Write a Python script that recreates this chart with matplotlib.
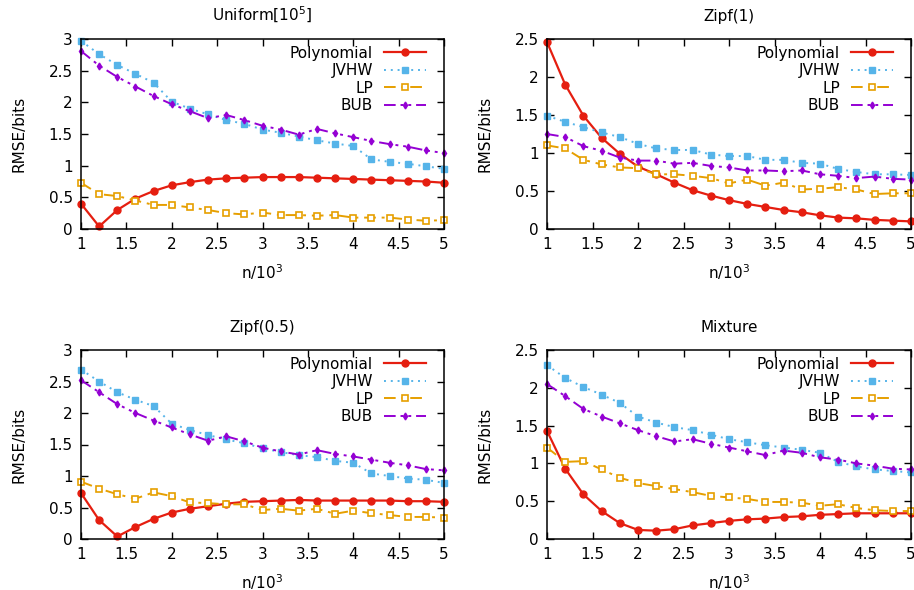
import matplotlib
matplotlib.use("Agg")
import matplotlib.pyplot as plt
import numpy as np

n_thousands = [1.0, 1.2, 1.4, 1.6, 1.8, 2.0, 2.2, 2.4, 2.6, 2.8, 3.0,
               3.2, 3.4, 3.6, 3.8, 4.0, 4.2, 4.4, 4.6, 4.8, 5.0]

estimators = ["Polynomial", "JVHW", "LP", "BUB"]

# Uniform[10^5]
uniform_poly = [0.40, 0.04, 0.30, 0.48, 0.60, 0.69, 0.74, 0.78, 0.80, 0.81, 0.82,
                0.82, 0.82, 0.81, 0.80, 0.79, 0.78, 0.77, 0.76, 0.75, 0.73]
uniform_jvhw = [2.97, 2.76, 2.59, 2.45, 2.31, 2.01, 1.90, 1.81, 1.72, 1.66, 1.57,
                1.52, 1.46, 1.40, 1.35, 1.31, 1.10, 1.06, 1.03, 0.99, 0.95]
uniform_lp = [0.73, 0.55, 0.52, 0.45, 0.38, 0.38, 0.34, 0.30, 0.25, 0.23, 0.26,
              0.22, 0.22, 0.21, 0.22, 0.18, 0.18, 0.18, 0.15, 0.13, 0.14]
uniform_bub = [2.81, 2.58, 2.40, 2.25, 2.10, 1.97, 1.86, 1.75, 1.80, 1.72, 1.63,
               1.57, 1.49, 1.58, 1.51, 1.45, 1.39, 1.34, 1.30, 1.24, 1.20]

# Zipf(1)
zipf1_poly = [2.46, 1.90, 1.49, 1.20, 0.99, 0.82, 0.72, 0.61, 0.51, 0.44, 0.38,
              0.33, 0.29, 0.25, 0.22, 0.18, 0.15, 0.14, 0.12, 0.11, 0.10]
zipf1_jvhw = [1.49, 1.41, 1.34, 1.27, 1.21, 1.12, 1.06, 1.04, 1.04, 0.98, 0.96,
              0.96, 0.91, 0.91, 0.87, 0.86, 0.79, 0.75, 0.72, 0.72, 0.71]
zipf1_lp = [1.10, 1.06, 0.91, 0.85, 0.81, 0.80, 0.72, 0.72, 0.70, 0.67, 0.60,
            0.65, 0.57, 0.61, 0.52, 0.53, 0.55, 0.52, 0.46, 0.47, 0.47]
zipf1_bub = [1.25, 1.21, 1.09, 1.03, 0.94, 0.90, 0.90, 0.86, 0.87, 0.83, 0.81,
             0.77, 0.77, 0.76, 0.77, 0.72, 0.70, 0.67, 0.69, 0.66, 0.65]

# Zipf(0.5)
zipf05_poly = [0.73, 0.30, 0.04, 0.19, 0.32, 0.42, 0.48, 0.52, 0.56, 0.59, 0.60,
               0.61, 0.62, 0.61, 0.61, 0.61, 0.61, 0.61, 0.60, 0.60, 0.59]
zipf05_jvhw = [2.69, 2.50, 2.33, 2.21, 2.11, 1.83, 1.73, 1.65, 1.58, 1.52, 1.44,
               1.38, 1.33, 1.30, 1.24, 1.21, 1.04, 1.00, 0.96, 0.94, 0.89]
zipf05_lp = [0.91, 0.80, 0.71, 0.64, 0.74, 0.68, 0.58, 0.57, 0.55, 0.55, 0.46,
             0.48, 0.45, 0.48, 0.40, 0.45, 0.41, 0.38, 0.35, 0.35, 0.34]
zipf05_bub = [2.52, 2.33, 2.14, 2.00, 1.88, 1.77, 1.66, 1.56, 1.63, 1.55, 1.45,
              1.39, 1.34, 1.41, 1.35, 1.31, 1.26, 1.21, 1.17, 1.11, 1.09]

# Mixture
mix_poly = [1.43, 0.93, 0.59, 0.37, 0.21, 0.12, 0.11, 0.13, 0.18, 0.21, 0.24,
            0.26, 0.27, 0.29, 0.30, 0.32, 0.33, 0.34, 0.34, 0.34, 0.34]
mix_jvhw = [2.30, 2.13, 2.01, 1.91, 1.80, 1.62, 1.54, 1.48, 1.44, 1.38, 1.32,
            1.28, 1.24, 1.21, 1.18, 1.14, 1.02, 0.96, 0.92, 0.90, 0.88]
mix_lp = [1.21, 1.02, 1.03, 0.92, 0.81, 0.74, 0.70, 0.66, 0.62, 0.57, 0.55,
          0.53, 0.49, 0.49, 0.48, 0.44, 0.46, 0.41, 0.38, 0.37, 0.37]
mix_bub = [2.05, 1.89, 1.72, 1.62, 1.53, 1.44, 1.36, 1.29, 1.32, 1.26, 1.21,
           1.16, 1.11, 1.17, 1.14, 1.08, 1.05, 1.00, 0.97, 0.93, 0.92]

panel_titles = ["Uniform[$10^5$]", "Zipf(1)", "Zipf(0.5)", "Mixture"]
panel_data = [
    [uniform_poly, uniform_jvhw, uniform_lp, uniform_bub],
    [zipf1_poly, zipf1_jvhw, zipf1_lp, zipf1_bub],
    [zipf05_poly, zipf05_jvhw, zipf05_lp, zipf05_bub],
    [mix_poly, mix_jvhw, mix_lp, mix_bub],
]
panel_ymax = [3.0, 2.5, 3.0, 2.5]

styles = [
    dict(color="#e51e10", linestyle="-", linewidth=1.6, marker="o",
         markersize=5, markerfacecolor="#e51e10", markeredgecolor="#e51e10"),
    dict(color="#56b4e9", linestyle=(0, (1, 2.5)), linewidth=1.4, marker="s",
         markersize=4.5, markerfacecolor="#56b4e9", markeredgecolor="#56b4e9"),
    dict(color="#e69f00", linestyle=(0, (6, 3, 1.5, 3)), linewidth=1.4, marker="s",
         markersize=4.5, markerfacecolor="white", markeredgecolor="#e69f00",
         markeredgewidth=1.2),
    dict(color="#9400d3", linestyle=(0, (6, 2.5, 1.5, 2.5, 1.5, 2.5)), linewidth=1.4,
         marker="d", markersize=3.5, markerfacecolor="#9400d3",
         markeredgecolor="#9400d3"),
]

fig = plt.figure(figsize=(9.14, 5.90), dpi=100)
W, H = 914.0, 590.0
boxes = [(81, 39, 444, 229), (547, 39, 911, 229),
         (81, 350, 444, 539), (547, 350, 911, 539)]

for (x0, y0, x1, y1), title, data, ymax in zip(boxes, panel_titles, panel_data, panel_ymax):
    ax = fig.add_axes([x0 / W, 1 - y1 / H, (x1 - x0) / W, (y1 - y0) / H])
    for label, vals, st in zip(estimators, data, styles):
        ax.plot(n_thousands, vals, label=label, clip_on=False, **st)
    ax.set_xlim(1, 5)
    ax.set_ylim(0, ymax)
    ax.set_xticks(np.arange(1, 5.01, 0.5))
    ax.set_xticklabels(["1", "1.5", "2", "2.5", "3", "3.5", "4", "4.5", "5"])
    yt = np.arange(0, ymax + 0.01, 0.5)
    ax.set_yticks(yt)
    ax.set_yticklabels([f"{v:g}" for v in yt])
    ax.tick_params(direction="in", top=True, right=True, length=5, width=1,
                   labelsize=11, pad=6)
    for sp in ax.spines.values():
        sp.set_linewidth(1.1)
    ax.set_title(title, fontsize=11, pad=13)
    ax.set_xlabel("n/$10^3$", fontsize=11, labelpad=7)
    ax.set_ylabel("RMSE/bits", fontsize=11, labelpad=16)
    ax.legend(loc="upper right", bbox_to_anchor=(0.981, 1.021), frameon=False,
              markerfirst=False, fontsize=11, handlelength=2.8,
              handletextpad=0.7, labelspacing=0.16, borderaxespad=0.3)

fig.savefig("out.png", dpi=100)
